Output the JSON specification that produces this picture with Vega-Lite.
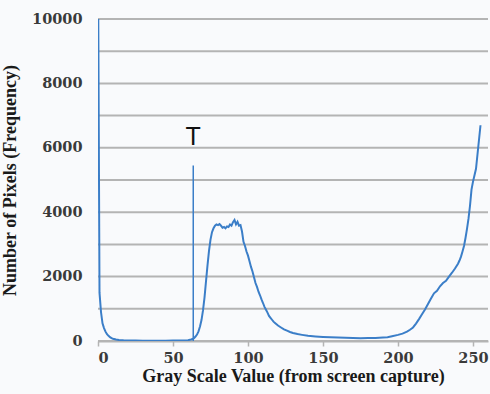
{
  "$schema": "https://vega.github.io/schema/vega-lite/v6.json",
  "width": 390,
  "height": 322,
  "autosize": {"type": "none"},
  "padding": {"left": 98, "top": 19, "right": 2, "bottom": 53},
  "background": "#f9fafc",
  "config": {
    "view": {"stroke": null},
    "axis": {
      "labelFont": "DejaVu Serif",
      "labelFontWeight": "bold",
      "labelFontSize": 14.5,
      "labelColor": "#3a3a3a",
      "labelOverlap": false,
      "titleFont": "Liberation Serif",
      "titleFontWeight": "bold",
      "titleFontSize": 18,
      "titleColor": "#1a1a1a"
    }
  },
  "datasets": {
    "hist": [
      {"g": 0, "n": 12000}, {"g": 1, "n": 1500}, {"g": 2, "n": 900}, {"g": 3, "n": 550},
      {"g": 4, "n": 400}, {"g": 5, "n": 290}, {"g": 6, "n": 210}, {"g": 7, "n": 160},
      {"g": 8, "n": 120}, {"g": 9, "n": 90}, {"g": 10, "n": 70}, {"g": 12, "n": 45},
      {"g": 14, "n": 30}, {"g": 17, "n": 20}, {"g": 20, "n": 15}, {"g": 25, "n": 12},
      {"g": 30, "n": 10}, {"g": 35, "n": 10}, {"g": 40, "n": 10}, {"g": 45, "n": 10},
      {"g": 50, "n": 12}, {"g": 55, "n": 15}, {"g": 60, "n": 25}, {"g": 62, "n": 45},
      {"g": 63, "n": 60}, {"g": 64, "n": 90}, {"g": 65, "n": 140}, {"g": 66, "n": 200},
      {"g": 67, "n": 300}, {"g": 68, "n": 450}, {"g": 69, "n": 650}, {"g": 70, "n": 950},
      {"g": 71, "n": 1350}, {"g": 72, "n": 1850}, {"g": 73, "n": 2350}, {"g": 74, "n": 2800},
      {"g": 75, "n": 3150}, {"g": 76, "n": 3380}, {"g": 77, "n": 3500}, {"g": 78, "n": 3580},
      {"g": 79, "n": 3620}, {"g": 80, "n": 3600}, {"g": 81, "n": 3630}, {"g": 82, "n": 3580},
      {"g": 83, "n": 3520}, {"g": 84, "n": 3540}, {"g": 85, "n": 3500}, {"g": 86, "n": 3560},
      {"g": 87, "n": 3540}, {"g": 88, "n": 3620}, {"g": 89, "n": 3580}, {"g": 90, "n": 3690},
      {"g": 91, "n": 3760}, {"g": 92, "n": 3620}, {"g": 93, "n": 3700}, {"g": 94, "n": 3580},
      {"g": 95, "n": 3600}, {"g": 96, "n": 3400}, {"g": 97, "n": 3080}, {"g": 98, "n": 2950},
      {"g": 99, "n": 2780}, {"g": 100, "n": 2650}, {"g": 101, "n": 2480}, {"g": 102, "n": 2300},
      {"g": 103, "n": 2160}, {"g": 104, "n": 1980}, {"g": 105, "n": 1800}, {"g": 106, "n": 1680},
      {"g": 107, "n": 1530}, {"g": 108, "n": 1420}, {"g": 109, "n": 1290}, {"g": 110, "n": 1180},
      {"g": 111, "n": 1060}, {"g": 112, "n": 970}, {"g": 113, "n": 880}, {"g": 114, "n": 780},
      {"g": 115, "n": 720}, {"g": 116, "n": 660}, {"g": 117, "n": 600}, {"g": 118, "n": 560},
      {"g": 120, "n": 480}, {"g": 122, "n": 420}, {"g": 124, "n": 360}, {"g": 126, "n": 320},
      {"g": 128, "n": 280}, {"g": 130, "n": 250}, {"g": 133, "n": 215}, {"g": 136, "n": 190},
      {"g": 140, "n": 160}, {"g": 145, "n": 140}, {"g": 150, "n": 125}, {"g": 155, "n": 115},
      {"g": 160, "n": 105}, {"g": 165, "n": 100}, {"g": 170, "n": 95}, {"g": 175, "n": 85},
      {"g": 180, "n": 90}, {"g": 185, "n": 95}, {"g": 190, "n": 110}, {"g": 193, "n": 120},
      {"g": 196, "n": 150}, {"g": 200, "n": 190}, {"g": 203, "n": 230}, {"g": 206, "n": 290},
      {"g": 208, "n": 350}, {"g": 210, "n": 420}, {"g": 212, "n": 540}, {"g": 214, "n": 680},
      {"g": 216, "n": 830}, {"g": 218, "n": 980}, {"g": 220, "n": 1150}, {"g": 222, "n": 1320},
      {"g": 224, "n": 1480}, {"g": 226, "n": 1560}, {"g": 228, "n": 1700}, {"g": 230, "n": 1800},
      {"g": 232, "n": 1870}, {"g": 234, "n": 2000}, {"g": 236, "n": 2120}, {"g": 238, "n": 2250},
      {"g": 240, "n": 2400}, {"g": 241, "n": 2500}, {"g": 242, "n": 2620}, {"g": 243, "n": 2780},
      {"g": 244, "n": 2950}, {"g": 245, "n": 3200}, {"g": 246, "n": 3480}, {"g": 247, "n": 3800},
      {"g": 248, "n": 4200}, {"g": 249, "n": 4700}, {"g": 250, "n": 4950}, {"g": 251, "n": 5150},
      {"g": 252, "n": 5350}, {"g": 253, "n": 5800}, {"g": 254, "n": 6250}, {"g": 255, "n": 6700}
    ],
    "thresh": [
      {"g": 63.5, "n": 0},
      {"g": 63.5, "n": 5450}
    ],
    "tlabel": [
      {"g": 63.5, "n": 6100, "label": "T"}
    ],
    "grid": [
      {"n": 0}, {"n": 1000}, {"n": 2000}, {"n": 3000}, {"n": 4000}, {"n": 5000},
      {"n": 6000}, {"n": 7000}, {"n": 8000}, {"n": 9000}, {"n": 10000}
    ]
  },
  "layer": [
    {
      "data": {"name": "grid"},
      "mark": {"type": "rule", "color": "#b4b4b4", "strokeWidth": 2},
      "encoding": {
        "y": {
          "field": "n", "type": "quantitative",
          "scale": {"domain": [0, 10000], "nice": false},
          "axis": {
            "title": "Number of Pixels (Frequency)",
            "values": [0, 1000, 2000, 3000, 4000, 5000, 6000, 7000, 8000, 9000, 10000],
            "format": "d",
            "grid": false,
            "domain": false,
            "ticks": false,
            "labelPadding": 16,
            "titlePadding": 12
          }
        }
      }
    },
    {
      "data": {"name": "hist"},
      "mark": {"type": "line", "color": "#3b7ec8", "strokeWidth": 2, "clip": true},
      "encoding": {
        "x": {
          "field": "g", "type": "quantitative",
          "scale": {"domain": [0, 260], "nice": false, "zero": false},
          "axis": {
            "title": "Gray Scale Value (from screen capture)",
            "values": [0, 50, 100, 150, 200, 250],
            "grid": false,
            "domainColor": "#b4b4b4",
            "domainWidth": 2,
            "tickColor": "#b4b4b4",
            "tickSize": 5,
            "tickWidth": 1.5,
            "labelPadding": 5,
            "titlePadding": 3
          }
        },
        "y": {"field": "n", "type": "quantitative"}
      }
    },
    {
      "data": {"name": "thresh"},
      "mark": {"type": "line", "color": "#3b7ec8", "strokeWidth": 1.5},
      "encoding": {
        "x": {"field": "g", "type": "quantitative"},
        "y": {"field": "n", "type": "quantitative"}
      }
    },
    {
      "data": {"name": "tlabel"},
      "mark": {"type": "text", "font": "Liberation Sans", "fontSize": 25, "color": "#111111", "baseline": "alphabetic", "align": "center"},
      "encoding": {
        "x": {"field": "g", "type": "quantitative"},
        "y": {"field": "n", "type": "quantitative"},
        "text": {"field": "label"}
      }
    }
  ]
}
